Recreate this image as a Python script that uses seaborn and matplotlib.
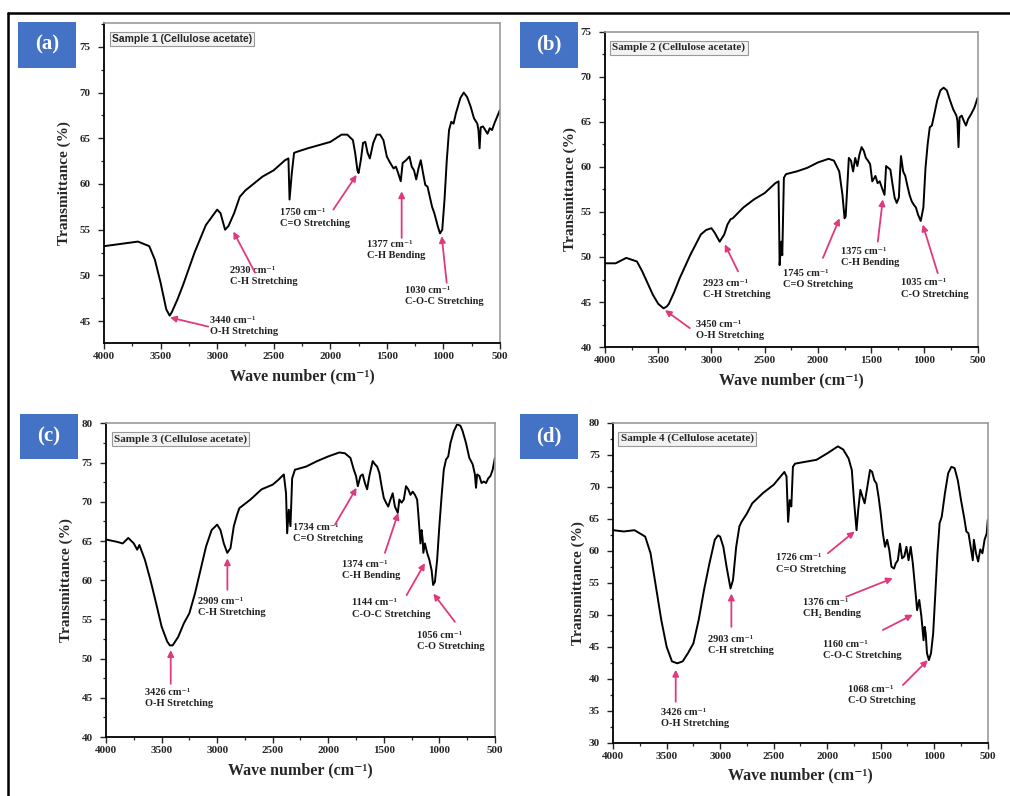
import matplotlib
matplotlib.use("Agg")
import matplotlib.pyplot as plt
import matplotlib.patches as mpatches
import matplotlib.lines as mlines
from matplotlib.ticker import AutoMinorLocator
import seaborn as sns
import pandas as pd

# ── Spectra (wavenumber cm-1, transmittance %) ──
wn_a = [4000, 3700, 3600, 3550, 3500, 3450, 3420, 3400, 3350, 3300,
        3200, 3100, 3000, 2970, 2930, 2900, 2850, 2800, 2750, 2600,
        2500, 2400, 2370, 2360, 2340, 2320, 2300, 2200, 2000, 1900,
        1850, 1800, 1780, 1760, 1750, 1730, 1710, 1690, 1670, 1650,
        1620, 1590, 1560, 1530, 1500, 1470, 1440, 1420, 1400, 1377,
        1360, 1330, 1300, 1280, 1260, 1240, 1220, 1200, 1180, 1160,
        1140, 1120, 1100, 1080, 1050, 1030, 1010, 990, 970, 950,
        930, 910, 890, 850, 820, 790, 760, 730, 700, 690,
        680, 670, 650, 630, 610, 590, 570, 550, 520, 500]
tr_a = [53.2, 53.7, 53.2, 51.7, 49.2, 46.3, 45.6, 46.0, 47.4, 49.0,
        52.5, 55.5, 57.2, 56.8, 55.0, 55.4, 56.8, 58.6, 59.3, 60.8,
        61.5, 62.6, 62.8, 58.3, 61.2, 63.4, 63.5, 63.9, 64.6, 65.4,
        65.4, 64.8, 63.4, 61.5, 61.2, 62.6, 64.5, 64.6, 63.4, 62.8,
        64.5, 65.4, 65.4, 64.8, 63.0, 62.3, 61.7, 61.9, 61.2, 60.3,
        62.3, 62.6, 63.0, 61.9, 61.5, 60.5, 61.7, 62.6, 61.2, 59.9,
        59.7, 58.6, 57.5, 56.8, 55.4, 54.6, 55.0, 58.3, 62.6, 65.9,
        66.8, 66.6, 67.7, 69.4, 70.0, 69.5, 68.5, 67.2, 66.6, 65.9,
        63.9, 66.2, 66.3, 65.9, 65.5, 66.1, 65.9, 66.6, 67.5, 68.1]

wn_b = [4000, 3900, 3800, 3750, 3700, 3650, 3600, 3550, 3500, 3450,
        3420, 3400, 3350, 3300, 3200, 3100, 3050, 3000, 2970, 2923,
        2880, 2850, 2820, 2800, 2700, 2600, 2500, 2400, 2370, 2360,
        2345, 2335, 2320, 2300, 2200, 2100, 2000, 1900, 1850, 1800,
        1770, 1750, 1740, 1725, 1710, 1690, 1670, 1650, 1630, 1610,
        1590, 1570, 1550, 1530, 1510, 1490, 1460, 1440, 1420, 1400,
        1375, 1360, 1340, 1320, 1300, 1280, 1260, 1240, 1230, 1220,
        1200, 1180, 1160, 1140, 1120, 1100, 1080, 1060, 1035, 1010,
        990, 970, 950, 930, 910, 880, 850, 820, 790, 760,
        730, 700, 690, 680, 670, 650, 630, 610, 590, 560,
        530, 500]
tr_b = [49.3, 49.3, 49.9, 49.7, 49.5, 48.4, 47.1, 45.8, 44.8, 44.3,
        44.5, 44.8, 46.1, 47.6, 50.2, 52.5, 53.0, 53.2, 52.7, 51.7,
        52.5, 53.6, 54.2, 54.3, 55.5, 56.4, 57.1, 58.2, 58.4, 49.1,
        51.7, 50.2, 58.8, 59.2, 59.5, 59.9, 60.5, 60.9, 60.7, 59.5,
        56.9, 54.3, 54.5, 57.7, 61.0, 60.7, 59.5, 61.0, 60.1, 61.4,
        62.2, 61.8, 61.0, 60.7, 60.3, 58.4, 59.0, 58.2, 58.4, 57.7,
        56.9, 60.1, 59.9, 59.7, 58.1, 56.6, 56.0, 56.6, 59.2, 61.2,
        59.5, 59.0, 57.9, 56.9, 56.2, 55.8, 55.5, 54.7, 54.0, 55.5,
        59.9, 62.5, 64.4, 64.6, 65.7, 67.4, 68.5, 68.8, 68.5, 67.4,
        66.4, 65.7, 65.1, 62.2, 65.5, 65.7, 65.1, 64.6, 65.3, 65.9,
        66.6, 67.7]

wn_c = [4000, 3900, 3850, 3800, 3750, 3720, 3700, 3650, 3600, 3550,
        3500, 3450, 3426, 3400, 3350, 3300, 3250, 3200, 3150, 3100,
        3050, 3000, 2970, 2940, 2909, 2880, 2850, 2820, 2800, 2700,
        2600, 2500, 2450, 2400, 2380, 2370, 2355, 2340, 2325, 2300,
        2200, 2100, 2000, 1900, 1850, 1800, 1770, 1750, 1734, 1710,
        1690, 1670, 1650, 1630, 1600, 1580, 1560, 1540, 1520, 1500,
        1480, 1460, 1440, 1420, 1400, 1374, 1360, 1340, 1320, 1300,
        1280, 1260, 1240, 1220, 1200, 1190, 1170, 1160, 1150, 1144,
        1130, 1110, 1090, 1070, 1056, 1040, 1020, 1000, 980, 960,
        940, 920, 900, 870, 840, 810, 790, 760, 730, 700,
        680, 670, 660, 640, 620, 600, 580, 560, 540, 520,
        500]
tr_c = [65.2, 64.9, 64.7, 65.4, 64.7, 63.9, 64.5, 62.6, 60.0, 57.1,
        54.1, 52.2, 51.7, 51.7, 52.8, 54.5, 55.8, 58.3, 61.3, 64.3,
        66.4, 67.1, 66.4, 64.7, 63.5, 64.1, 66.9, 68.4, 69.2, 70.3,
        71.6, 72.2, 72.8, 73.5, 71.1, 66.0, 69.0, 66.9, 73.0, 74.1,
        74.5, 75.2, 75.8, 76.3, 76.2, 75.6, 74.1, 73.3, 72.0, 73.3,
        73.5, 72.4, 71.6, 73.3, 75.2, 74.8, 74.5, 73.7, 72.0, 70.5,
        69.9, 69.4, 70.3, 71.1, 69.4, 68.6, 70.3, 69.9, 70.3, 72.0,
        71.6, 70.9, 71.3, 70.9, 70.3, 68.6, 64.7, 66.4, 65.2, 63.5,
        64.7, 63.5, 62.6, 61.3, 59.4, 59.8, 62.6, 66.9, 70.7, 74.1,
        75.4, 75.8, 77.5, 79.0, 79.9, 79.7, 79.0, 77.5, 75.6, 74.8,
        73.5, 71.8, 73.5, 73.3, 72.4, 72.6, 72.4, 73.0, 73.3, 74.1,
        75.6]

wn_d = [4000, 3900, 3800, 3750, 3700, 3650, 3600, 3550, 3500, 3450,
        3400, 3350, 3300, 3250, 3200, 3150, 3100, 3050, 3020, 3000,
        2970, 2940, 2903, 2880, 2850, 2820, 2800, 2750, 2700, 2600,
        2500, 2450, 2400, 2380, 2365, 2350, 2335, 2320, 2300, 2200,
        2100, 2000, 1900, 1850, 1800, 1770, 1750, 1726, 1710, 1690,
        1670, 1650, 1620, 1600, 1580, 1560, 1540, 1520, 1500, 1480,
        1460, 1440, 1420, 1400, 1376, 1360, 1340, 1320, 1300, 1280,
        1260, 1240, 1220, 1200, 1180, 1160, 1140, 1120, 1100, 1090,
        1080, 1068, 1050, 1030, 1010, 990, 970, 950, 930, 900,
        870, 840, 810, 780, 750, 720, 700, 680, 660, 640,
        630, 610, 590, 570, 550, 530, 510, 500]
tr_d = [63.2, 63.0, 63.2, 62.7, 62.2, 59.6, 54.4, 49.2, 45.0, 42.7,
        42.4, 42.7, 44.0, 45.5, 49.2, 53.9, 58.0, 61.7, 62.4, 62.2,
        60.6, 57.5, 54.1, 55.4, 60.6, 63.8, 64.5, 65.8, 67.4, 69.0,
        70.3, 71.3, 72.3, 71.6, 64.5, 67.9, 66.9, 73.1, 73.6, 73.9,
        74.2, 75.2, 76.3, 75.8, 74.4, 72.6, 67.9, 63.2, 66.4, 69.5,
        68.4, 67.4, 70.5, 72.6, 72.3, 71.0, 70.5, 68.4, 65.8, 62.7,
        60.6, 61.7, 60.1, 57.5, 57.2, 58.0, 58.5, 61.1, 58.8, 59.1,
        60.6, 58.5, 60.6, 58.0, 54.4, 50.7, 52.3, 49.7, 46.0, 48.1,
        47.1, 44.0, 42.9, 44.0, 47.1, 53.3, 59.6, 64.3, 65.3, 69.0,
        72.1, 73.1, 72.9, 71.0, 67.9, 65.1, 63.0, 62.7, 60.6, 58.5,
        61.7, 59.6, 58.3, 60.2, 59.6, 61.7, 62.7, 64.8]

# ── Panel metadata ──
panel_tags = ["(a)", "(b)", "(c)", "(d)"]
sample_names = ["Sample 1 (Cellulose acetate)", "Sample 2 (Cellulose acetate)",
                "Sample 3 (Cellulose acetate)", "Sample 4 (Cellulose acetate)"]
y_limits = [(42.6, 77.6), (40, 75), (40, 80), (30, 80)]
y_ticks = [[45, 50, 55, 60, 65, 70, 75], [40, 45, 50, 55, 60, 65, 70, 75],
           [40, 45, 50, 55, 60, 65, 70, 75, 80], [30, 35, 40, 45, 50, 55, 60, 65, 70, 75, 80]]
x_ticks = [4000, 3500, 3000, 2500, 2000, 1500, 1000, 500]

# annotations: label, text anchor (wn, T), arrow tail (wn, T), arrow tip (wn, T)
notes_a = [
    ("3440 cm⁻¹\nO-H Stretching", (3063, 44.5), (3078, 44.4), (3417, 45.4)),
    ("2930 cm⁻¹\nC-H Stretching", (2886, 49.9), (2665, 50.3), (2857, 54.8)),
    ("1750 cm⁻¹\nC=O Stretching", (2444, 56.3), (1973, 57.2), (1767, 61.0)),
    ("1377 cm⁻¹\nC-H Bending", (1678, 52.8), (1369, 54.1), (1369, 59.2)),
    ("1030 cm⁻¹\nC-O-C Stretching", (1340, 47.7), (971, 49.2), (1015, 54.3)),
]
notes_b = [
    ("3450 cm⁻¹\nO-H Stretching", (3141, 41.9), (3203, 42.1), (3437, 44.1)),
    ("2923 cm⁻¹\nC-H Stretching", (3078, 46.4), (2750, 48.4), (2875, 51.4)),
    ("1745 cm⁻¹\nC=O Stretching", (2328, 47.6), (1953, 49.9), (1797, 54.3)),
    ("1375 cm⁻¹\nC-H Bending", (1788, 50.0), (1438, 51.7), (1391, 56.4)),
    ("1035 cm⁻¹\nC-O Stretching", (1219, 46.5), (875, 48.2), (1016, 53.6)),
]
notes_c = [
    ("3426 cm⁻¹\nO-H Stretching", (3649, 45.0), (3418, 46.8), (3418, 51.1)),
    ("2909 cm⁻¹\nC-H Stretching", (3169, 56.6), (2908, 58.8), (2908, 62.8)),
    ("1734 cm⁻¹\nC=O Stretching", (2314, 66.0), (1939, 67.1), (1745, 71.8)),
    ("1374 cm⁻¹\nC-H Bending", (1879, 61.3), (1490, 63.5), (1370, 68.6)),
    ("1144 cm⁻¹\nC-O-C Stretching", (1789, 56.4), (1295, 58.1), (1130, 62.2)),
    ("1056 cm⁻¹\nC-O Stretching", (1205, 52.2), (860, 54.7), (1054, 58.3)),
]
notes_d = [
    ("3426 cm⁻¹\nO-H Stretching", (3549, 33.8), (3415, 36.4), (3415, 41.4)),
    ("2903 cm⁻¹\nC-H stretching", (3113, 45.3), (2895, 48.1), (2895, 53.3)),
    ("1726 cm⁻¹\nC=O Stretching", (2475, 58.0), (1993, 59.6), (1744, 63.0)),
    ("1376 cm⁻¹\nCH₂ Bending", (2227, 51.0), (1822, 52.8), (1387, 55.7)),
    ("1160 cm⁻¹\nC-O-C Stretching", (2040, 44.5), (1480, 47.6), (1200, 50.0)),
    ("1068 cm⁻¹\nC-O Stretching", (1807, 37.4), (1293, 39.0), (1060, 42.9)),
]

SERIF = ["Liberation Serif", "DejaVu Serif"]
ARROW = "#e03a7e"
BLUE = "#4472c4"

sns.set_theme(style="ticks")
plt.rcParams["font.family"] = SERIF

fig = plt.figure(figsize=(10.1, 7.96), dpi=100)

# axes rectangles (figure fraction)
axes_boxes = [
    [0.103, 0.569, 0.392, 0.402],
    [0.599, 0.564, 0.369, 0.396],
    [0.105, 0.074, 0.385, 0.394],
    [0.607, 0.067, 0.371, 0.402],
]
tag_boxes = [
    (0.018, 0.915), (0.515, 0.915), (0.020, 0.423), (0.515, 0.423),
]

spectra = [(wn_a, tr_a), (wn_b, tr_b), (wn_c, tr_c), (wn_d, tr_d)]
notes = [notes_a, notes_b, notes_c, notes_d]

for i in range(4):
    ax = fig.add_axes(axes_boxes[i])
    wn, tr = spectra[i]
    df = pd.DataFrame({"wn": wn, "tr": tr})
    sns.lineplot(data=df, x="wn", y="tr", ax=ax, color="black", lw=1.4,
                 estimator=None, sort=False)

    ax.set_xlim(4000, 500)
    ax.set_ylim(*y_limits[i])
    ax.set_xticks(x_ticks)
    ax.set_yticks(y_ticks[i])
    ax.xaxis.set_minor_locator(AutoMinorLocator(2))
    ax.yaxis.set_minor_locator(AutoMinorLocator(2))
    ax.tick_params(which="major", direction="out", length=4.5, width=1, labelsize=8, pad=2)
    ax.tick_params(axis="y", which="major", pad=5)
    ax.tick_params(which="minor", direction="out", length=2.5, width=0.9)
    for lab in ax.get_xticklabels() + ax.get_yticklabels():
        lab.set_fontweight("bold")

    for side in ["left", "bottom"]:
        ax.spines[side].set_color("black")
        ax.spines[side].set_linewidth(1.3)
    for side in ["top", "right"]:
        ax.spines[side].set_visible(True)
        ax.spines[side].set_color("#9a9a9a")
        ax.spines[side].set_linewidth(1.2)

    ax.set_xlabel("Wave number (cm⁻¹)", fontsize=11.5, fontweight="bold", labelpad=5)
    ax.set_ylabel("Transmittance (%)", fontsize=11, fontweight="bold",
                  labelpad=6 if i in (0, 2) else 3)

    ax.text(0.02, 0.965, sample_names[i], transform=ax.transAxes, ha="left", va="top",
            fontsize=7.5 if i == 0 else 8, fontweight="bold",
            family=["Liberation Sans", "DejaVu Sans"] if i == 0 else SERIF,
            bbox=dict(boxstyle="square,pad=0.2", fc="#f2f2f2", ec="#999999", lw=0.8))

    for label, txt_pos, tail, tip in notes[i]:
        ax.text(txt_pos[0], txt_pos[1], label, ha="left", va="center", fontsize=7.5,
                fontweight="bold", linespacing=1.3, color="#222222")
        ax.annotate("", xy=tip, xytext=tail,
                    arrowprops=dict(arrowstyle="-|>", color=ARROW, lw=1.3,
                                    mutation_scale=9, shrinkA=0, shrinkB=0))

    # blue panel tag
    bx, by = tag_boxes[i]
    fig.patches.append(mpatches.Rectangle((bx, by), 0.057, 0.057, transform=fig.transFigure,
                                          facecolor=BLUE, edgecolor="none", zorder=5))
    fig.text(bx + 0.0285, by + 0.0285, panel_tags[i], ha="center", va="center",
             color="white", fontsize=15, fontweight="bold", zorder=6)

# outer frame (top and left edges)
fig.lines.append(mlines.Line2D([0.008, 1.0], [0.984, 0.984], transform=fig.transFigure,
                               color="black", lw=1.8))
fig.lines.append(mlines.Line2D([0.008, 0.008], [0.0, 0.984], transform=fig.transFigure,
                               color="black", lw=1.8))

fig.savefig("out.png", dpi=100)
